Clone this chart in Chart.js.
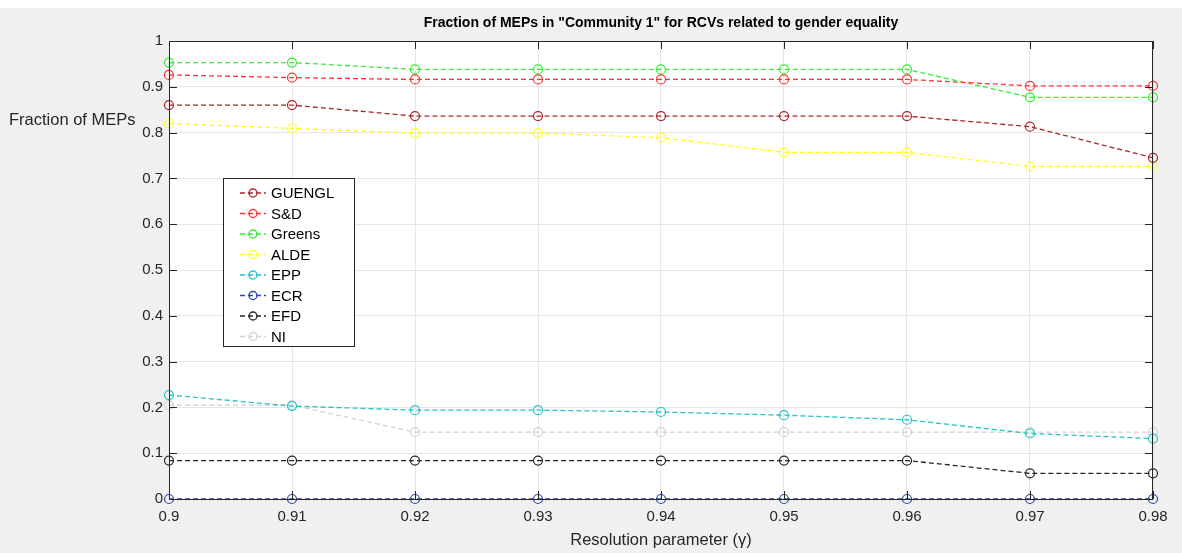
<!DOCTYPE html>
<html>
<head>
<meta charset="utf-8">
<script src="https://cdn.jsdelivr.net/npm/chart.js@4.4.1/dist/chart.umd.min.js"></script>
<style>
  html, body { margin: 0; padding: 0; background: #f0f0f0; }
  #wrap { width: 1182px; height: 553px; }
</style>
</head>
<body>
<div id="wrap"><canvas id="chart" width="1182" height="553"></canvas></div>
<script>
// resolution parameter values (x axis)
const gammaValues = [0.9, 0.91, 0.92, 0.93, 0.94, 0.95, 0.96, 0.97, 0.98];
const yTicks = [0, 0.1, 0.2, 0.3, 0.4, 0.5, 0.6, 0.7, 0.8, 0.9, 1];

// fraction of each group's MEPs in community 1
const guengl = [0.860, 0.860, 0.836, 0.836, 0.836, 0.836, 0.836, 0.813, 0.745];
const snd    = [0.926, 0.920, 0.916, 0.916, 0.916, 0.916, 0.916, 0.902, 0.902];
const greens = [0.953, 0.953, 0.938, 0.938, 0.938, 0.938, 0.938, 0.877, 0.877];
const alde   = [0.820, 0.809, 0.799, 0.799, 0.789, 0.757, 0.757, 0.726, 0.726];
const epp    = [0.227, 0.203, 0.194, 0.194, 0.190, 0.183, 0.173, 0.143, 0.132];
const ecr    = [0, 0, 0, 0, 0, 0, 0, 0, 0];
const efd    = [0.084, 0.084, 0.084, 0.084, 0.084, 0.084, 0.084, 0.056, 0.056];
const ni     = [0.205, 0.205, 0.146, 0.146, 0.146, 0.146, 0.146, 0.146, 0.146];

const groupNames = ['GUENGL', 'S&D', 'Greens', 'ALDE', 'EPP', 'ECR', 'EFD', 'NI'];
const groupSeries = [guengl, snd, greens, alde, epp, ecr, efd, ni];
const groupColors = ['#a8282a', '#ff3333', '#33ee33', '#ffff22', '#22c4c4', '#2a44a8', '#262626', '#d2d2d2'];

const FONT = '"Liberation Sans", Arial, sans-serif';
const AXIS = '#262626';

const datasets = groupNames.map((name, i) => ({
    label: name,
    data: gammaValues.map((g, j) => ({ x: g, y: groupSeries[i][j] })),
    borderColor: groupColors[i],
    backgroundColor: 'transparent',
    borderWidth: 1.3,
    borderDash: [5, 3],
    pointStyle: 'circle',
    pointRadius: 4.5,
    pointBorderWidth: 1.2,
    pointBorderColor: groupColors[i],
    pointBackgroundColor: 'transparent',
    tension: 0,
    clip: false
}));

// background, box, inward ticks, titles and the legend box
const matlabLook = {
    id: 'matlabLook',
    beforeDraw(chart) {
        const { ctx, chartArea: a } = chart;
        ctx.save();
        ctx.fillStyle = '#f0f0f0';
        ctx.fillRect(0, 0, chart.width, chart.height);
        ctx.fillStyle = '#ffffff';
        ctx.fillRect(0, 0, chart.width, 8);
        ctx.fillRect(a.left, a.top, a.right - a.left, a.bottom - a.top);
        ctx.restore();
    },
    afterDatasetsDraw(chart) {
        const { ctx, chartArea: a, scales } = chart;
        ctx.save();
        ctx.strokeStyle = AXIS;
        ctx.lineWidth = 1;
        ctx.strokeRect(a.left + 0.5, a.top + 0.5, a.right - a.left - 1, a.bottom - a.top);
        ctx.beginPath();
        scales.x.ticks.forEach(t => {
            const px = Math.round(scales.x.getPixelForValue(t.value)) + 0.5;
            ctx.moveTo(px, a.bottom); ctx.lineTo(px, a.bottom - 8);
            ctx.moveTo(px, a.top); ctx.lineTo(px, a.top + 8);
        });
        scales.y.ticks.forEach(t => {
            const py = Math.round(scales.y.getPixelForValue(t.value)) + 0.5;
            ctx.moveTo(a.left, py); ctx.lineTo(a.left + 8, py);
            ctx.moveTo(a.right, py); ctx.lineTo(a.right - 8, py);
        });
        ctx.stroke();

        // title
        ctx.fillStyle = '#000';
        ctx.font = 'bold 14px ' + FONT;
        ctx.textAlign = 'center';
        ctx.textBaseline = 'middle';
        ctx.fillText('Fraction of MEPs in "Community 1" for RCVs related to gender equality', (a.left + a.right) / 2, 23);

        // y axis title (horizontal)
        ctx.fillStyle = AXIS;
        ctx.font = '16.5px ' + FONT;
        ctx.textAlign = 'left';
        ctx.fillText('Fraction of MEPs', 9, 120);

        // legend
        const lx = 223, ly = 178, lw = 131, lh = 168;
        ctx.fillStyle = '#ffffff';
        ctx.fillRect(lx, ly, lw, lh);
        ctx.strokeStyle = AXIS;
        ctx.strokeRect(lx + 0.5, ly + 0.5, lw, lh);
        ctx.font = '15px ' + FONT;
        chart.data.datasets.forEach((ds, i) => {
            const y = ly + 15 + i * 20.5;
            ctx.strokeStyle = ds.borderColor;
            ctx.lineWidth = 1.3;
            ctx.setLineDash([5, 3]);
            ctx.beginPath();
            ctx.moveTo(240, y); ctx.lineTo(266, y);
            ctx.stroke();
            ctx.setLineDash([]);
            ctx.beginPath();
            ctx.arc(253, y, 4, 0, Math.PI * 2);
            ctx.stroke();
            ctx.fillStyle = '#000';
            ctx.fillText(ds.label, 271, y + 1);
        });
        ctx.restore();
    }
};

new Chart(document.getElementById('chart'), {
    type: 'line',
    data: { datasets },
    options: {
        responsive: false,
        animation: false,
        layout: { padding: { left: 0, right: 29, top: 41, bottom: 0 } },
        plugins: { legend: { display: false }, tooltip: { enabled: false } },
        scales: {
            x: {
                type: 'linear',
                min: gammaValues[0],
                max: gammaValues[gammaValues.length - 1],
                afterBuildTicks: s => { s.ticks = gammaValues.map(v => ({ value: v })); },
                afterFit: s => { s.height = 54; },
                grid: { color: '#e6e6e6', drawTicks: false },
                border: { display: false },
                ticks: {
                    padding: 9,
                    color: AXIS,
                    font: { family: FONT, size: 15 },
                    callback: v => String(Number(v.toFixed(2)))
                },
                title: {
                    display: true,
                    text: 'Resolution parameter (\u03b3)',
                    color: AXIS,
                    font: { family: FONT, size: 16.5 },
                    padding: { top: 0, bottom: 3 }
                }
            },
            y: {
                min: 0,
                max: 1,
                afterBuildTicks: s => { s.ticks = yTicks.map(v => ({ value: v })); },
                afterFit: s => { s.width = 169; },
                grid: { color: '#e6e6e6', drawTicks: false },
                border: { display: false },
                ticks: {
                    padding: 6,
                    color: AXIS,
                    font: { family: FONT, size: 15 },
                    callback: v => String(Number(v.toFixed(1)))
                }
            }
        }
    },
    plugins: [matlabLook]
});
</script>
</body>
</html>
